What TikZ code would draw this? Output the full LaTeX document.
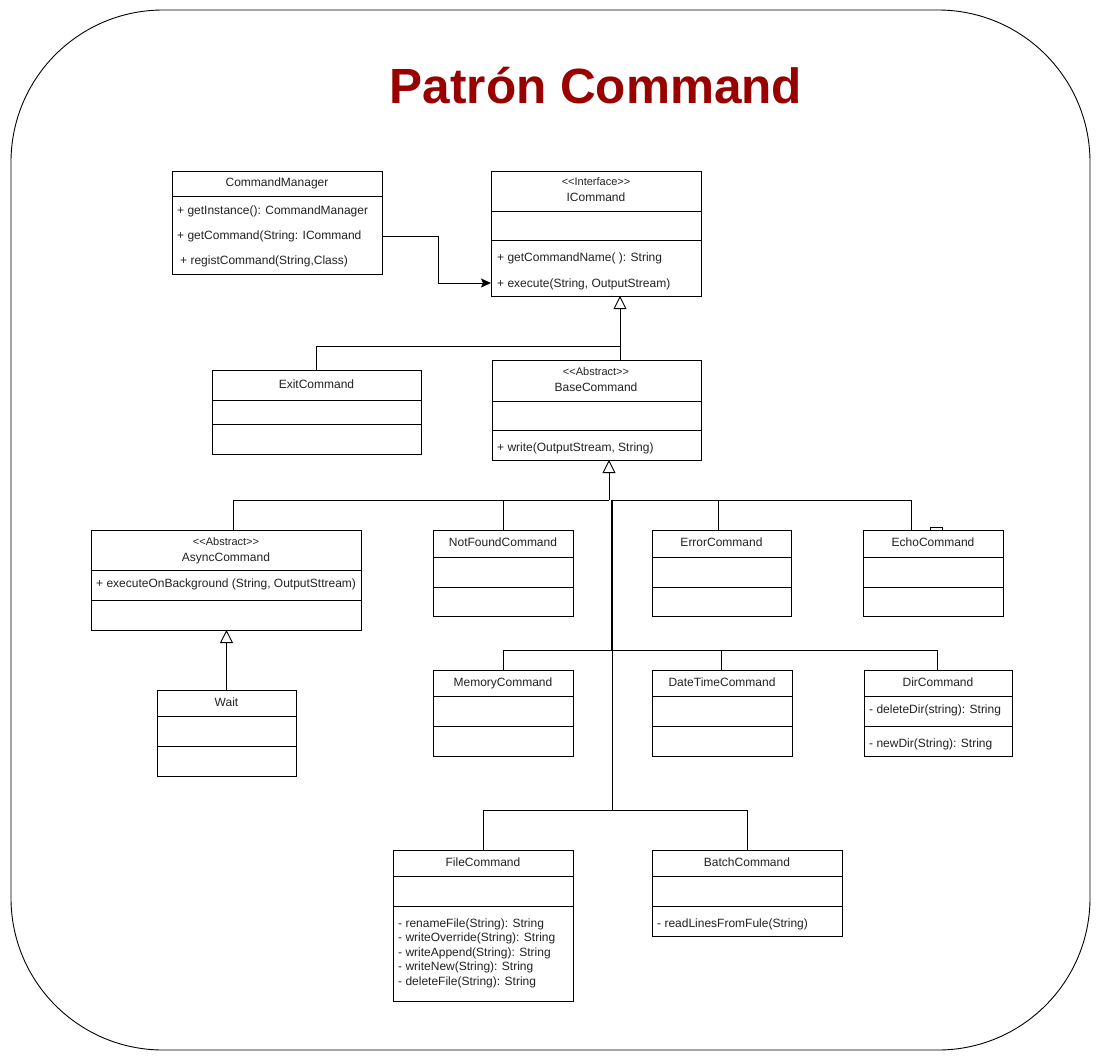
\documentclass[tikz,border=0pt]{standalone}
\usepackage{fontspec}
\setmainfont{Liberation Sans}
\usetikzlibrary{arrows.meta,calc}
\definecolor{titlered}{RGB}{153,0,0}
\definecolor{txtc}{RGB}{34,34,34}
\newcommand\stlt{\textless\kern0pt\textless}
\newcommand\stgt{\textgreater\kern0pt\textgreater}
\begin{document}
\begin{tikzpicture}[x=1pt,y=-1pt,
 cls/.style={draw, line width=0.9pt, inner sep=0pt, outer sep=0pt, anchor=north west, fill=white},
 ctx/.style={font=\fontsize{12}{14}\selectfont, text=txtc, inner sep=0pt, text height=8.6pt, text depth=2.4pt},
 ltx/.style={ctx, anchor=west},
 stx/.style={font=\fontsize{11}{13}\selectfont, text=txtc, inner sep=0pt, text height=7.9pt, text depth=2.2pt},
 conn/.style={line width=0.9pt},
 sepl/.style={line width=0.9pt},
 gen/.style={conn, -{Triangle[open, width=13pt, length=13pt]}},
 assoc/.style={conn, -{Stealth[length=10pt, width=9pt, inset=2pt]}}
]
\useasboundingbox (0,0) rectangle (1101,1061);
\draw[line width=0.9pt, rounded corners=152pt] (11,10) rectangle (1090,1050);

\node[font=\bfseries\fontsize{49.5}{58}\selectfont, text=titlered, inner sep=0pt] (title) at (596,86) {Patrón Command};

% class boxes
\node[cls, minimum width=210pt, minimum height=103pt] (cm) at (172,171) {};
\node[cls, minimum width=210pt, minimum height=125pt] (icmd) at (491,171) {};
\node[cls, minimum width=209pt, minimum height=84pt] (exit) at (212,370) {};
\node[cls, minimum width=209pt, minimum height=100pt] (base) at (492,360) {};
\node[cls, minimum width=270pt, minimum height=100pt] (async) at (91,530) {};
\node[cls, minimum width=140pt, minimum height=86pt] (nf) at (433,530) {};
\node[cls, minimum width=139pt, minimum height=86pt] (err) at (652,530) {};
\node[cls, minimum width=140pt, minimum height=86pt] (echo) at (863,530) {};
\node[cls, minimum width=139pt, minimum height=86pt] (wait) at (157,690) {};
\node[cls, minimum width=140pt, minimum height=86pt] (mem) at (433,670) {};
\node[cls, minimum width=140pt, minimum height=86pt] (dt) at (652,670) {};
\node[cls, minimum width=148pt, minimum height=86pt] (dir) at (864,670) {};
\node[cls, minimum width=180pt, minimum height=151pt] (file) at (393,850) {};
\node[cls, minimum width=190pt, minimum height=86pt] (batch) at (652,850) {};

% separators
\foreach \n/\y in {cm/196, icmd/211, icmd/240, exit/400, exit/424, base/401, base/430,
  async/570, async/600, nf/557, nf/587, err/557, err/587, echo/557, echo/587,
  wait/716, wait/746, mem/696, mem/726, dt/696, dt/726, dir/696, dir/726,
  file/876, file/906, batch/876, batch/906}
  \draw[sepl] (\n.west |- 0,\y) -- (\n.east |- 0,\y);

% texts
\node[ctx] (t1) at (277,183.5) {CommandManager};
\node[ltx] (t2) at (177,211) {+ getInstance(): CommandManager};
\node[ltx] (t3) at (177,236) {+ getCommand(String: ICommand};
\node[ltx] (t4) at (180,261) {+ registCommand(String,Class)};
\node[stx] (t5) at (596,183) {\stlt Interface\stgt};
\node[ctx] (t6) at (596,198) {ICommand};
\node[ltx] (t7) at (497,258) {+ getCommandName( ): String};
\node[ltx] (t8) at (497,284) {+ execute(String, OutputStream)};
\node[ctx] (t9) at (316.5,385) {ExitCommand};
\node[stx] (t10) at (596,373) {\stlt Abstract\stgt};
\node[ctx] (t11) at (596,388) {BaseCommand};
\node[ltx] (t12) at (497,448) {+ write(OutputStream, String)};
\node[stx] (t13) at (226,543) {\stlt Abstract\stgt};
\node[ctx] (t14) at (226,558) {AsyncCommand};
\node[ltx] (t15) at (96,584) {+ executeOnBackground (String, OutputSttream)};
\node[ctx] (t16) at (503,543) {NotFoundCommand};
\node[ctx] (t17) at (721.5,543) {ErrorCommand};
\node[ctx] (t18) at (933,543) {EchoCommand};
\node[ctx] (t19) at (226.5,703) {Wait};
\node[ctx] (t20) at (503,683) {MemoryCommand};
\node[ctx] (t21) at (722,683) {DateTimeCommand};
\node[ctx] (t22) at (938,683) {DirCommand};
\node[ltx] (t23) at (869,710) {- deleteDir(string): String};
\node[ltx] (t24) at (869,744) {- newDir(String): String};
\node[ctx] (t25) at (483,863) {FileCommand};
\node[ltx] (t26) at (398,924) {- renameFile(String): String};
\node[ltx] (t27) at (398,938.5) {- writeOverride(String): String};
\node[ltx] (t28) at (398,953) {- writeAppend(String): String};
\node[ltx] (t29) at (398,967.5) {- writeNew(String): String};
\node[ltx] (t30) at (398,982) {- deleteFile(String): String};
\node[ctx] (t31) at (747,863) {BatchCommand};
\node[ltx] (t32) at (657,924) {- readLinesFromFule(String)};

% connectors
\coordinate (ja) at (438,236);
\draw[assoc] (cm.east |- ja) -- (ja) |- (icmd.west |- 0,283);

\draw[gen] ([xshift=128pt]base.north west) -- ([xshift=129pt]icmd.south west);
\coordinate (jx) at (620,346);
\draw[conn] (exit.north) |- (jx);

\coordinate (b1) at (609,500);
\coordinate (b1t) at (612,500);
\coordinate (b2) at (612,650);
\coordinate (b3) at (612,810);
\draw[gen] (b1) -- (b1 |- base.south);
\draw[conn] ([xshift=142pt]async.north west) |- (b1);
\draw[conn] (nf.north) |- (b1);
\draw[conn] ([xshift=66pt]err.north west) |- (b1t);
\draw[conn] ([xshift=48pt]echo.north west) |- (b1t);
\draw[line width=2.2pt] (b1t) -- (b2);
\draw[conn] (mem.north) |- (b2);
\draw[conn] ([xshift=69pt]dt.north west) |- (b2);
\draw[conn] ([xshift=73pt]dir.north west) |- (b2);
\draw[conn] (b2) -- (b3);
\draw[conn] (file.north) |- (b3);
\draw[conn] (batch.north) |- (b3);
\draw[gen] (wait.north) -- (wait.north |- async.south);

\draw[conn] (930,527) rectangle (942,530);
\end{tikzpicture}
\end{document}
